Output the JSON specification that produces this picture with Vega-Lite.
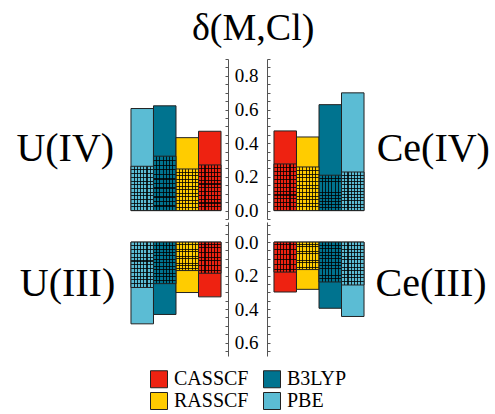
{
  "$schema": "https://vega.github.io/schema/vega-lite/v6.json",
  "padding": {"left": 16, "top": 10, "right": 0, "bottom": 0},
  "background": "white",
  "title": {"text": "δ(M,Cl)", "font": "Liberation Serif", "fontSize": 38, "fontWeight": "normal", "anchor": "middle", "color": "black", "offset": 2},
  "data": {"values": [
    {"panel": "U(IV)", "method": "PBE", "total": 0.606, "hatched": 0.263},
    {"panel": "U(IV)", "method": "B3LYP", "total": 0.622, "hatched": 0.323},
    {"panel": "U(IV)", "method": "RASSCF", "total": 0.433, "hatched": 0.247},
    {"panel": "U(IV)", "method": "CASSCF", "total": 0.471, "hatched": 0.271},
    {"panel": "Ce(IV)", "method": "CASSCF", "total": 0.473, "hatched": 0.277},
    {"panel": "Ce(IV)", "method": "RASSCF", "total": 0.437, "hatched": 0.259},
    {"panel": "Ce(IV)", "method": "B3LYP", "total": 0.629, "hatched": 0.21},
    {"panel": "Ce(IV)", "method": "PBE", "total": 0.699, "hatched": 0.229},
    {"panel": "U(III)", "method": "PBE", "total": 0.488, "hatched": 0.271},
    {"panel": "U(III)", "method": "B3LYP", "total": 0.432, "hatched": 0.248},
    {"panel": "U(III)", "method": "RASSCF", "total": 0.301, "hatched": 0.17},
    {"panel": "U(III)", "method": "CASSCF", "total": 0.327, "hatched": 0.186},
    {"panel": "Ce(III)", "method": "CASSCF", "total": 0.298, "hatched": 0.179},
    {"panel": "Ce(III)", "method": "RASSCF", "total": 0.282, "hatched": 0.164},
    {"panel": "Ce(III)", "method": "B3LYP", "total": 0.395, "hatched": 0.238},
    {"panel": "Ce(III)", "method": "PBE", "total": 0.444, "hatched": 0.256}
  ]},
  "columns": 2,
  "spacing": {"row": 3, "column": 39},
  "bounds": "flush",
  "concat": [
    {
      "width": 104, "height": 160,
      "title": {"text": "U(IV)", "orient": "left", "angle": 0, "align": "center", "baseline": "middle", "offset": -39, "dy": 10},
      "transform": [{"filter": "datum.panel == 'U(IV)'"}],
      "encoding": {"x": {"field": "method", "type": "nominal", "sort": ["PBE", "B3LYP", "RASSCF", "CASSCF"], "axis": null, "scale": {"paddingInner": 0, "paddingOuter": 0.31}}},
      "layer": [
        {"mark": {"type": "rule", "color": "#444", "strokeWidth": 1}, "encoding": {"y": {"datum": 0, "type": "quantitative", "title": null, "axis": {"orient": "right", "labels": false, "values": [-0.05,0,0.05,0.1,0.15,0.2,0.25,0.3,0.35,0.4,0.45,0.5,0.55,0.6,0.65,0.7,0.75,0.8,0.85,0.9]}}}},
        {"mark": {"type": "bar", "stroke": "#222", "strokeWidth": 1}, "encoding": {
          "y": {"field": "total", "type": "quantitative", "title": null, "scale": {"domain": [-0.05, 0.9], "nice": false}, "axis": {"orient": "right", "labels": false, "values": [-0.05,0,0.05,0.1,0.15,0.2,0.25,0.3,0.35,0.4,0.45,0.5,0.55,0.6,0.65,0.7,0.75,0.8,0.85,0.9]}},
          "color": {"field": "method", "type": "nominal", "scale": {"domain": ["CASSCF", "RASSCF", "B3LYP", "PBE"], "range": ["#EE2211", "#FFCC00", "#00738F", "#5BBCD4"]}}}},
        {"mark": {"type": "bar"}, "encoding": {"y": {"field": "hatched", "type": "quantitative", "title": null, "axis": {"orient": "right", "labels": false, "values": [-0.05,0,0.05,0.1,0.15,0.2,0.25,0.3,0.35,0.4,0.45,0.5,0.55,0.6,0.65,0.7,0.75,0.8,0.85,0.9]}}, "color": {"field": "method", "type": "nominal"}}},
        {"mark": {"type": "bar", "fill": {"gradient": "linear", "x1": 0, "y1": 0, "x2": 1, "y2": 0, "stops": [
    {"offset": 0, "color": "rgba(0,0,0,0)"},
    {"offset": 0.118, "color": "rgba(0,0,0,0)"}, {"offset": 0.118, "color": "rgba(0,0,0,0.8)"}, {"offset": 0.168, "color": "rgba(0,0,0,0.8)"}, {"offset": 0.168, "color": "rgba(0,0,0,0)"},
    {"offset": 0.261, "color": "rgba(0,0,0,0)"}, {"offset": 0.261, "color": "rgba(0,0,0,0.8)"}, {"offset": 0.311, "color": "rgba(0,0,0,0.8)"}, {"offset": 0.311, "color": "rgba(0,0,0,0)"},
    {"offset": 0.404, "color": "rgba(0,0,0,0)"}, {"offset": 0.404, "color": "rgba(0,0,0,0.8)"}, {"offset": 0.454, "color": "rgba(0,0,0,0.8)"}, {"offset": 0.454, "color": "rgba(0,0,0,0)"},
    {"offset": 0.546, "color": "rgba(0,0,0,0)"}, {"offset": 0.546, "color": "rgba(0,0,0,0.8)"}, {"offset": 0.596, "color": "rgba(0,0,0,0.8)"}, {"offset": 0.596, "color": "rgba(0,0,0,0)"},
    {"offset": 0.689, "color": "rgba(0,0,0,0)"}, {"offset": 0.689, "color": "rgba(0,0,0,0.8)"}, {"offset": 0.739, "color": "rgba(0,0,0,0.8)"}, {"offset": 0.739, "color": "rgba(0,0,0,0)"},
    {"offset": 0.832, "color": "rgba(0,0,0,0)"}, {"offset": 0.832, "color": "rgba(0,0,0,0.8)"}, {"offset": 0.882, "color": "rgba(0,0,0,0.8)"}, {"offset": 0.882, "color": "rgba(0,0,0,0)"},
    {"offset": 1, "color": "rgba(0,0,0,0)"}]}}, "encoding": {"y": {"field": "hatched", "type": "quantitative", "title": null, "axis": {"orient": "right", "labels": false, "values": [-0.05,0,0.05,0.1,0.15,0.2,0.25,0.3,0.35,0.4,0.45,0.5,0.55,0.6,0.65,0.7,0.75,0.8,0.85,0.9]}}}},
        {"mark": {"type": "bar", "stroke": "#222", "strokeWidth": 1, "fill": {"gradient": "linear", "x1": 0, "y1": 0, "x2": 0, "y2": 1, "stops": [
    {"offset": 0, "color": "rgba(0,0,0,0)"},
    {"offset": 0.071, "color": "rgba(0,0,0,0)"}, {"offset": 0.071, "color": "rgba(0,0,0,0.8)"}, {"offset": 0.095, "color": "rgba(0,0,0,0.8)"}, {"offset": 0.095, "color": "rgba(0,0,0,0)"},
    {"offset": 0.155, "color": "rgba(0,0,0,0)"}, {"offset": 0.155, "color": "rgba(0,0,0,0.8)"}, {"offset": 0.179, "color": "rgba(0,0,0,0.8)"}, {"offset": 0.179, "color": "rgba(0,0,0,0)"},
    {"offset": 0.238, "color": "rgba(0,0,0,0)"}, {"offset": 0.238, "color": "rgba(0,0,0,0.8)"}, {"offset": 0.262, "color": "rgba(0,0,0,0.8)"}, {"offset": 0.262, "color": "rgba(0,0,0,0)"},
    {"offset": 0.321, "color": "rgba(0,0,0,0)"}, {"offset": 0.321, "color": "rgba(0,0,0,0.8)"}, {"offset": 0.345, "color": "rgba(0,0,0,0.8)"}, {"offset": 0.345, "color": "rgba(0,0,0,0)"},
    {"offset": 0.405, "color": "rgba(0,0,0,0)"}, {"offset": 0.405, "color": "rgba(0,0,0,0.8)"}, {"offset": 0.429, "color": "rgba(0,0,0,0.8)"}, {"offset": 0.429, "color": "rgba(0,0,0,0)"},
    {"offset": 0.488, "color": "rgba(0,0,0,0)"}, {"offset": 0.488, "color": "rgba(0,0,0,0.8)"}, {"offset": 0.512, "color": "rgba(0,0,0,0.8)"}, {"offset": 0.512, "color": "rgba(0,0,0,0)"},
    {"offset": 0.571, "color": "rgba(0,0,0,0)"}, {"offset": 0.571, "color": "rgba(0,0,0,0.8)"}, {"offset": 0.595, "color": "rgba(0,0,0,0.8)"}, {"offset": 0.595, "color": "rgba(0,0,0,0)"},
    {"offset": 0.655, "color": "rgba(0,0,0,0)"}, {"offset": 0.655, "color": "rgba(0,0,0,0.8)"}, {"offset": 0.679, "color": "rgba(0,0,0,0.8)"}, {"offset": 0.679, "color": "rgba(0,0,0,0)"},
    {"offset": 0.738, "color": "rgba(0,0,0,0)"}, {"offset": 0.738, "color": "rgba(0,0,0,0.8)"}, {"offset": 0.762, "color": "rgba(0,0,0,0.8)"}, {"offset": 0.762, "color": "rgba(0,0,0,0)"},
    {"offset": 0.821, "color": "rgba(0,0,0,0)"}, {"offset": 0.821, "color": "rgba(0,0,0,0.8)"}, {"offset": 0.845, "color": "rgba(0,0,0,0.8)"}, {"offset": 0.845, "color": "rgba(0,0,0,0)"},
    {"offset": 0.905, "color": "rgba(0,0,0,0)"}, {"offset": 0.905, "color": "rgba(0,0,0,0.8)"}, {"offset": 0.929, "color": "rgba(0,0,0,0.8)"}, {"offset": 0.929, "color": "rgba(0,0,0,0)"},
    {"offset": 1, "color": "rgba(0,0,0,0)"}]}}, "encoding": {"y": {"field": "hatched", "type": "quantitative", "title": null, "axis": {"orient": "right", "labels": false, "values": [-0.05,0,0.05,0.1,0.15,0.2,0.25,0.3,0.35,0.4,0.45,0.5,0.55,0.6,0.65,0.7,0.75,0.8,0.85,0.9]}}}}
      ]
    },
    {
      "width": 104, "height": 160,
      "title": {"text": "Ce(IV)", "orient": "right", "angle": 0, "align": "center", "baseline": "middle", "offset": -51, "dy": 10},
      "transform": [{"filter": "datum.panel == 'Ce(IV)'"}],
      "encoding": {"x": {"field": "method", "type": "nominal", "sort": ["CASSCF", "RASSCF", "B3LYP", "PBE"], "axis": null, "scale": {"paddingInner": 0, "paddingOuter": 0.31}}},
      "layer": [
        {"mark": {"type": "rule", "color": "#444", "strokeWidth": 1}, "encoding": {"y": {"datum": 0, "type": "quantitative", "title": null, "axis": {"orient": "left", "labelExpr": "datum.value >= 0 && abs(datum.value*5 - round(datum.value*5)) < 0.001 ? format(datum.value, '.1f') : ''", "values": [-0.05,0,0.05,0.1,0.15,0.2,0.25,0.3,0.35,0.4,0.45,0.5,0.55,0.6,0.65,0.7,0.75,0.8,0.85,0.9]}}}},
        {"mark": {"type": "bar", "stroke": "#222", "strokeWidth": 1}, "encoding": {
          "y": {"field": "total", "type": "quantitative", "title": null, "scale": {"domain": [-0.05, 0.9], "nice": false}, "axis": {"orient": "left", "labelExpr": "datum.value >= 0 && abs(datum.value*5 - round(datum.value*5)) < 0.001 ? format(datum.value, '.1f') : ''", "values": [-0.05,0,0.05,0.1,0.15,0.2,0.25,0.3,0.35,0.4,0.45,0.5,0.55,0.6,0.65,0.7,0.75,0.8,0.85,0.9]}},
          "color": {"field": "method", "type": "nominal"}}},
        {"mark": {"type": "bar"}, "encoding": {"y": {"field": "hatched", "type": "quantitative", "title": null, "axis": {"orient": "left", "labelExpr": "datum.value >= 0 && abs(datum.value*5 - round(datum.value*5)) < 0.001 ? format(datum.value, '.1f') : ''", "values": [-0.05,0,0.05,0.1,0.15,0.2,0.25,0.3,0.35,0.4,0.45,0.5,0.55,0.6,0.65,0.7,0.75,0.8,0.85,0.9]}}, "color": {"field": "method", "type": "nominal"}}},
        {"mark": {"type": "bar", "fill": {"gradient": "linear", "x1": 0, "y1": 0, "x2": 1, "y2": 0, "stops": [
    {"offset": 0, "color": "rgba(0,0,0,0)"},
    {"offset": 0.118, "color": "rgba(0,0,0,0)"}, {"offset": 0.118, "color": "rgba(0,0,0,0.8)"}, {"offset": 0.168, "color": "rgba(0,0,0,0.8)"}, {"offset": 0.168, "color": "rgba(0,0,0,0)"},
    {"offset": 0.261, "color": "rgba(0,0,0,0)"}, {"offset": 0.261, "color": "rgba(0,0,0,0.8)"}, {"offset": 0.311, "color": "rgba(0,0,0,0.8)"}, {"offset": 0.311, "color": "rgba(0,0,0,0)"},
    {"offset": 0.404, "color": "rgba(0,0,0,0)"}, {"offset": 0.404, "color": "rgba(0,0,0,0.8)"}, {"offset": 0.454, "color": "rgba(0,0,0,0.8)"}, {"offset": 0.454, "color": "rgba(0,0,0,0)"},
    {"offset": 0.546, "color": "rgba(0,0,0,0)"}, {"offset": 0.546, "color": "rgba(0,0,0,0.8)"}, {"offset": 0.596, "color": "rgba(0,0,0,0.8)"}, {"offset": 0.596, "color": "rgba(0,0,0,0)"},
    {"offset": 0.689, "color": "rgba(0,0,0,0)"}, {"offset": 0.689, "color": "rgba(0,0,0,0.8)"}, {"offset": 0.739, "color": "rgba(0,0,0,0.8)"}, {"offset": 0.739, "color": "rgba(0,0,0,0)"},
    {"offset": 0.832, "color": "rgba(0,0,0,0)"}, {"offset": 0.832, "color": "rgba(0,0,0,0.8)"}, {"offset": 0.882, "color": "rgba(0,0,0,0.8)"}, {"offset": 0.882, "color": "rgba(0,0,0,0)"},
    {"offset": 1, "color": "rgba(0,0,0,0)"}]}}, "encoding": {"y": {"field": "hatched", "type": "quantitative", "title": null, "axis": {"orient": "left", "labelExpr": "datum.value >= 0 && abs(datum.value*5 - round(datum.value*5)) < 0.001 ? format(datum.value, '.1f') : ''", "values": [-0.05,0,0.05,0.1,0.15,0.2,0.25,0.3,0.35,0.4,0.45,0.5,0.55,0.6,0.65,0.7,0.75,0.8,0.85,0.9]}}}},
        {"mark": {"type": "bar", "stroke": "#222", "strokeWidth": 1, "fill": {"gradient": "linear", "x1": 0, "y1": 0, "x2": 0, "y2": 1, "stops": [
    {"offset": 0, "color": "rgba(0,0,0,0)"},
    {"offset": 0.071, "color": "rgba(0,0,0,0)"}, {"offset": 0.071, "color": "rgba(0,0,0,0.8)"}, {"offset": 0.095, "color": "rgba(0,0,0,0.8)"}, {"offset": 0.095, "color": "rgba(0,0,0,0)"},
    {"offset": 0.155, "color": "rgba(0,0,0,0)"}, {"offset": 0.155, "color": "rgba(0,0,0,0.8)"}, {"offset": 0.179, "color": "rgba(0,0,0,0.8)"}, {"offset": 0.179, "color": "rgba(0,0,0,0)"},
    {"offset": 0.238, "color": "rgba(0,0,0,0)"}, {"offset": 0.238, "color": "rgba(0,0,0,0.8)"}, {"offset": 0.262, "color": "rgba(0,0,0,0.8)"}, {"offset": 0.262, "color": "rgba(0,0,0,0)"},
    {"offset": 0.321, "color": "rgba(0,0,0,0)"}, {"offset": 0.321, "color": "rgba(0,0,0,0.8)"}, {"offset": 0.345, "color": "rgba(0,0,0,0.8)"}, {"offset": 0.345, "color": "rgba(0,0,0,0)"},
    {"offset": 0.405, "color": "rgba(0,0,0,0)"}, {"offset": 0.405, "color": "rgba(0,0,0,0.8)"}, {"offset": 0.429, "color": "rgba(0,0,0,0.8)"}, {"offset": 0.429, "color": "rgba(0,0,0,0)"},
    {"offset": 0.488, "color": "rgba(0,0,0,0)"}, {"offset": 0.488, "color": "rgba(0,0,0,0.8)"}, {"offset": 0.512, "color": "rgba(0,0,0,0.8)"}, {"offset": 0.512, "color": "rgba(0,0,0,0)"},
    {"offset": 0.571, "color": "rgba(0,0,0,0)"}, {"offset": 0.571, "color": "rgba(0,0,0,0.8)"}, {"offset": 0.595, "color": "rgba(0,0,0,0.8)"}, {"offset": 0.595, "color": "rgba(0,0,0,0)"},
    {"offset": 0.655, "color": "rgba(0,0,0,0)"}, {"offset": 0.655, "color": "rgba(0,0,0,0.8)"}, {"offset": 0.679, "color": "rgba(0,0,0,0.8)"}, {"offset": 0.679, "color": "rgba(0,0,0,0)"},
    {"offset": 0.738, "color": "rgba(0,0,0,0)"}, {"offset": 0.738, "color": "rgba(0,0,0,0.8)"}, {"offset": 0.762, "color": "rgba(0,0,0,0.8)"}, {"offset": 0.762, "color": "rgba(0,0,0,0)"},
    {"offset": 0.821, "color": "rgba(0,0,0,0)"}, {"offset": 0.821, "color": "rgba(0,0,0,0.8)"}, {"offset": 0.845, "color": "rgba(0,0,0,0.8)"}, {"offset": 0.845, "color": "rgba(0,0,0,0)"},
    {"offset": 0.905, "color": "rgba(0,0,0,0)"}, {"offset": 0.905, "color": "rgba(0,0,0,0.8)"}, {"offset": 0.929, "color": "rgba(0,0,0,0.8)"}, {"offset": 0.929, "color": "rgba(0,0,0,0)"},
    {"offset": 1, "color": "rgba(0,0,0,0)"}]}}, "encoding": {"y": {"field": "hatched", "type": "quantitative", "title": null, "axis": {"orient": "left", "labelExpr": "datum.value >= 0 && abs(datum.value*5 - round(datum.value*5)) < 0.001 ? format(datum.value, '.1f') : ''", "values": [-0.05,0,0.05,0.1,0.15,0.2,0.25,0.3,0.35,0.4,0.45,0.5,0.55,0.6,0.65,0.7,0.75,0.8,0.85,0.9]}}}}
      ]
    },
    {
      "width": 104, "height": 134,
      "title": {"text": "U(III)", "orient": "left", "angle": 0, "align": "center", "baseline": "middle", "offset": -39, "dy": -5},
      "transform": [{"filter": "datum.panel == 'U(III)'"}],
      "encoding": {"x": {"field": "method", "type": "nominal", "sort": ["PBE", "B3LYP", "RASSCF", "CASSCF"], "axis": null, "scale": {"paddingInner": 0, "paddingOuter": 0.31}}},
      "layer": [
        {"mark": {"type": "rule", "color": "#444", "strokeWidth": 1}, "encoding": {"y": {"datum": 0, "type": "quantitative", "title": null, "axis": {"orient": "right", "labels": false, "values": [-0.1,-0.05,0,0.05,0.1,0.15,0.2,0.25,0.3,0.35,0.4,0.45,0.5,0.55,0.6,0.65]}}}},
        {"mark": {"type": "bar", "stroke": "#222", "strokeWidth": 1}, "encoding": {
          "y": {"field": "total", "type": "quantitative", "title": null, "scale": {"domain": [-0.12, 0.68], "nice": false, "reverse": true}, "axis": {"orient": "right", "labels": false, "values": [-0.1,-0.05,0,0.05,0.1,0.15,0.2,0.25,0.3,0.35,0.4,0.45,0.5,0.55,0.6,0.65]}},
          "color": {"field": "method", "type": "nominal"}}},
        {"mark": {"type": "bar"}, "encoding": {"y": {"field": "hatched", "type": "quantitative", "title": null, "axis": {"orient": "right", "labels": false, "values": [-0.1,-0.05,0,0.05,0.1,0.15,0.2,0.25,0.3,0.35,0.4,0.45,0.5,0.55,0.6,0.65]}}, "color": {"field": "method", "type": "nominal"}}},
        {"mark": {"type": "bar", "fill": {"gradient": "linear", "x1": 0, "y1": 0, "x2": 1, "y2": 0, "stops": [
    {"offset": 0, "color": "rgba(0,0,0,0)"},
    {"offset": 0.118, "color": "rgba(0,0,0,0)"}, {"offset": 0.118, "color": "rgba(0,0,0,0.8)"}, {"offset": 0.168, "color": "rgba(0,0,0,0.8)"}, {"offset": 0.168, "color": "rgba(0,0,0,0)"},
    {"offset": 0.261, "color": "rgba(0,0,0,0)"}, {"offset": 0.261, "color": "rgba(0,0,0,0.8)"}, {"offset": 0.311, "color": "rgba(0,0,0,0.8)"}, {"offset": 0.311, "color": "rgba(0,0,0,0)"},
    {"offset": 0.404, "color": "rgba(0,0,0,0)"}, {"offset": 0.404, "color": "rgba(0,0,0,0.8)"}, {"offset": 0.454, "color": "rgba(0,0,0,0.8)"}, {"offset": 0.454, "color": "rgba(0,0,0,0)"},
    {"offset": 0.546, "color": "rgba(0,0,0,0)"}, {"offset": 0.546, "color": "rgba(0,0,0,0.8)"}, {"offset": 0.596, "color": "rgba(0,0,0,0.8)"}, {"offset": 0.596, "color": "rgba(0,0,0,0)"},
    {"offset": 0.689, "color": "rgba(0,0,0,0)"}, {"offset": 0.689, "color": "rgba(0,0,0,0.8)"}, {"offset": 0.739, "color": "rgba(0,0,0,0.8)"}, {"offset": 0.739, "color": "rgba(0,0,0,0)"},
    {"offset": 0.832, "color": "rgba(0,0,0,0)"}, {"offset": 0.832, "color": "rgba(0,0,0,0.8)"}, {"offset": 0.882, "color": "rgba(0,0,0,0.8)"}, {"offset": 0.882, "color": "rgba(0,0,0,0)"},
    {"offset": 1, "color": "rgba(0,0,0,0)"}]}}, "encoding": {"y": {"field": "hatched", "type": "quantitative", "title": null, "axis": {"orient": "right", "labels": false, "values": [-0.1,-0.05,0,0.05,0.1,0.15,0.2,0.25,0.3,0.35,0.4,0.45,0.5,0.55,0.6,0.65]}}}},
        {"mark": {"type": "bar", "stroke": "#222", "strokeWidth": 1, "fill": {"gradient": "linear", "x1": 0, "y1": 0, "x2": 0, "y2": 1, "stops": [
    {"offset": 0, "color": "rgba(0,0,0,0)"},
    {"offset": 0.071, "color": "rgba(0,0,0,0)"}, {"offset": 0.071, "color": "rgba(0,0,0,0.8)"}, {"offset": 0.095, "color": "rgba(0,0,0,0.8)"}, {"offset": 0.095, "color": "rgba(0,0,0,0)"},
    {"offset": 0.155, "color": "rgba(0,0,0,0)"}, {"offset": 0.155, "color": "rgba(0,0,0,0.8)"}, {"offset": 0.179, "color": "rgba(0,0,0,0.8)"}, {"offset": 0.179, "color": "rgba(0,0,0,0)"},
    {"offset": 0.238, "color": "rgba(0,0,0,0)"}, {"offset": 0.238, "color": "rgba(0,0,0,0.8)"}, {"offset": 0.262, "color": "rgba(0,0,0,0.8)"}, {"offset": 0.262, "color": "rgba(0,0,0,0)"},
    {"offset": 0.321, "color": "rgba(0,0,0,0)"}, {"offset": 0.321, "color": "rgba(0,0,0,0.8)"}, {"offset": 0.345, "color": "rgba(0,0,0,0.8)"}, {"offset": 0.345, "color": "rgba(0,0,0,0)"},
    {"offset": 0.405, "color": "rgba(0,0,0,0)"}, {"offset": 0.405, "color": "rgba(0,0,0,0.8)"}, {"offset": 0.429, "color": "rgba(0,0,0,0.8)"}, {"offset": 0.429, "color": "rgba(0,0,0,0)"},
    {"offset": 0.488, "color": "rgba(0,0,0,0)"}, {"offset": 0.488, "color": "rgba(0,0,0,0.8)"}, {"offset": 0.512, "color": "rgba(0,0,0,0.8)"}, {"offset": 0.512, "color": "rgba(0,0,0,0)"},
    {"offset": 0.571, "color": "rgba(0,0,0,0)"}, {"offset": 0.571, "color": "rgba(0,0,0,0.8)"}, {"offset": 0.595, "color": "rgba(0,0,0,0.8)"}, {"offset": 0.595, "color": "rgba(0,0,0,0)"},
    {"offset": 0.655, "color": "rgba(0,0,0,0)"}, {"offset": 0.655, "color": "rgba(0,0,0,0.8)"}, {"offset": 0.679, "color": "rgba(0,0,0,0.8)"}, {"offset": 0.679, "color": "rgba(0,0,0,0)"},
    {"offset": 0.738, "color": "rgba(0,0,0,0)"}, {"offset": 0.738, "color": "rgba(0,0,0,0.8)"}, {"offset": 0.762, "color": "rgba(0,0,0,0.8)"}, {"offset": 0.762, "color": "rgba(0,0,0,0)"},
    {"offset": 0.821, "color": "rgba(0,0,0,0)"}, {"offset": 0.821, "color": "rgba(0,0,0,0.8)"}, {"offset": 0.845, "color": "rgba(0,0,0,0.8)"}, {"offset": 0.845, "color": "rgba(0,0,0,0)"},
    {"offset": 0.905, "color": "rgba(0,0,0,0)"}, {"offset": 0.905, "color": "rgba(0,0,0,0.8)"}, {"offset": 0.929, "color": "rgba(0,0,0,0.8)"}, {"offset": 0.929, "color": "rgba(0,0,0,0)"},
    {"offset": 1, "color": "rgba(0,0,0,0)"}]}}, "encoding": {"y": {"field": "hatched", "type": "quantitative", "title": null, "axis": {"orient": "right", "labels": false, "values": [-0.1,-0.05,0,0.05,0.1,0.15,0.2,0.25,0.3,0.35,0.4,0.45,0.5,0.55,0.6,0.65]}}}}
      ]
    },
    {
      "width": 104, "height": 134,
      "title": {"text": "Ce(III)", "orient": "right", "angle": 0, "align": "center", "baseline": "middle", "offset": -51, "dy": -5},
      "transform": [{"filter": "datum.panel == 'Ce(III)'"}],
      "encoding": {"x": {"field": "method", "type": "nominal", "sort": ["CASSCF", "RASSCF", "B3LYP", "PBE"], "axis": null, "scale": {"paddingInner": 0, "paddingOuter": 0.31}}},
      "layer": [
        {"mark": {"type": "rule", "color": "#444", "strokeWidth": 1}, "encoding": {"y": {"datum": 0, "type": "quantitative", "title": null, "axis": {"orient": "left", "labelExpr": "datum.value >= 0 && abs(datum.value*5 - round(datum.value*5)) < 0.001 ? format(datum.value, '.1f') : ''", "values": [-0.1,-0.05,0,0.05,0.1,0.15,0.2,0.25,0.3,0.35,0.4,0.45,0.5,0.55,0.6,0.65]}}}},
        {"mark": {"type": "bar", "stroke": "#222", "strokeWidth": 1}, "encoding": {
          "y": {"field": "total", "type": "quantitative", "title": null, "scale": {"domain": [-0.12, 0.68], "nice": false, "reverse": true}, "axis": {"orient": "left", "labelExpr": "datum.value >= 0 && abs(datum.value*5 - round(datum.value*5)) < 0.001 ? format(datum.value, '.1f') : ''", "values": [-0.1,-0.05,0,0.05,0.1,0.15,0.2,0.25,0.3,0.35,0.4,0.45,0.5,0.55,0.6,0.65]}},
          "color": {"field": "method", "type": "nominal"}}},
        {"mark": {"type": "bar"}, "encoding": {"y": {"field": "hatched", "type": "quantitative", "title": null, "axis": {"orient": "left", "labelExpr": "datum.value >= 0 && abs(datum.value*5 - round(datum.value*5)) < 0.001 ? format(datum.value, '.1f') : ''", "values": [-0.1,-0.05,0,0.05,0.1,0.15,0.2,0.25,0.3,0.35,0.4,0.45,0.5,0.55,0.6,0.65]}}, "color": {"field": "method", "type": "nominal"}}},
        {"mark": {"type": "bar", "fill": {"gradient": "linear", "x1": 0, "y1": 0, "x2": 1, "y2": 0, "stops": [
    {"offset": 0, "color": "rgba(0,0,0,0)"},
    {"offset": 0.118, "color": "rgba(0,0,0,0)"}, {"offset": 0.118, "color": "rgba(0,0,0,0.8)"}, {"offset": 0.168, "color": "rgba(0,0,0,0.8)"}, {"offset": 0.168, "color": "rgba(0,0,0,0)"},
    {"offset": 0.261, "color": "rgba(0,0,0,0)"}, {"offset": 0.261, "color": "rgba(0,0,0,0.8)"}, {"offset": 0.311, "color": "rgba(0,0,0,0.8)"}, {"offset": 0.311, "color": "rgba(0,0,0,0)"},
    {"offset": 0.404, "color": "rgba(0,0,0,0)"}, {"offset": 0.404, "color": "rgba(0,0,0,0.8)"}, {"offset": 0.454, "color": "rgba(0,0,0,0.8)"}, {"offset": 0.454, "color": "rgba(0,0,0,0)"},
    {"offset": 0.546, "color": "rgba(0,0,0,0)"}, {"offset": 0.546, "color": "rgba(0,0,0,0.8)"}, {"offset": 0.596, "color": "rgba(0,0,0,0.8)"}, {"offset": 0.596, "color": "rgba(0,0,0,0)"},
    {"offset": 0.689, "color": "rgba(0,0,0,0)"}, {"offset": 0.689, "color": "rgba(0,0,0,0.8)"}, {"offset": 0.739, "color": "rgba(0,0,0,0.8)"}, {"offset": 0.739, "color": "rgba(0,0,0,0)"},
    {"offset": 0.832, "color": "rgba(0,0,0,0)"}, {"offset": 0.832, "color": "rgba(0,0,0,0.8)"}, {"offset": 0.882, "color": "rgba(0,0,0,0.8)"}, {"offset": 0.882, "color": "rgba(0,0,0,0)"},
    {"offset": 1, "color": "rgba(0,0,0,0)"}]}}, "encoding": {"y": {"field": "hatched", "type": "quantitative", "title": null, "axis": {"orient": "left", "labelExpr": "datum.value >= 0 && abs(datum.value*5 - round(datum.value*5)) < 0.001 ? format(datum.value, '.1f') : ''", "values": [-0.1,-0.05,0,0.05,0.1,0.15,0.2,0.25,0.3,0.35,0.4,0.45,0.5,0.55,0.6,0.65]}}}},
        {"mark": {"type": "bar", "stroke": "#222", "strokeWidth": 1, "fill": {"gradient": "linear", "x1": 0, "y1": 0, "x2": 0, "y2": 1, "stops": [
    {"offset": 0, "color": "rgba(0,0,0,0)"},
    {"offset": 0.071, "color": "rgba(0,0,0,0)"}, {"offset": 0.071, "color": "rgba(0,0,0,0.8)"}, {"offset": 0.095, "color": "rgba(0,0,0,0.8)"}, {"offset": 0.095, "color": "rgba(0,0,0,0)"},
    {"offset": 0.155, "color": "rgba(0,0,0,0)"}, {"offset": 0.155, "color": "rgba(0,0,0,0.8)"}, {"offset": 0.179, "color": "rgba(0,0,0,0.8)"}, {"offset": 0.179, "color": "rgba(0,0,0,0)"},
    {"offset": 0.238, "color": "rgba(0,0,0,0)"}, {"offset": 0.238, "color": "rgba(0,0,0,0.8)"}, {"offset": 0.262, "color": "rgba(0,0,0,0.8)"}, {"offset": 0.262, "color": "rgba(0,0,0,0)"},
    {"offset": 0.321, "color": "rgba(0,0,0,0)"}, {"offset": 0.321, "color": "rgba(0,0,0,0.8)"}, {"offset": 0.345, "color": "rgba(0,0,0,0.8)"}, {"offset": 0.345, "color": "rgba(0,0,0,0)"},
    {"offset": 0.405, "color": "rgba(0,0,0,0)"}, {"offset": 0.405, "color": "rgba(0,0,0,0.8)"}, {"offset": 0.429, "color": "rgba(0,0,0,0.8)"}, {"offset": 0.429, "color": "rgba(0,0,0,0)"},
    {"offset": 0.488, "color": "rgba(0,0,0,0)"}, {"offset": 0.488, "color": "rgba(0,0,0,0.8)"}, {"offset": 0.512, "color": "rgba(0,0,0,0.8)"}, {"offset": 0.512, "color": "rgba(0,0,0,0)"},
    {"offset": 0.571, "color": "rgba(0,0,0,0)"}, {"offset": 0.571, "color": "rgba(0,0,0,0.8)"}, {"offset": 0.595, "color": "rgba(0,0,0,0.8)"}, {"offset": 0.595, "color": "rgba(0,0,0,0)"},
    {"offset": 0.655, "color": "rgba(0,0,0,0)"}, {"offset": 0.655, "color": "rgba(0,0,0,0.8)"}, {"offset": 0.679, "color": "rgba(0,0,0,0.8)"}, {"offset": 0.679, "color": "rgba(0,0,0,0)"},
    {"offset": 0.738, "color": "rgba(0,0,0,0)"}, {"offset": 0.738, "color": "rgba(0,0,0,0.8)"}, {"offset": 0.762, "color": "rgba(0,0,0,0.8)"}, {"offset": 0.762, "color": "rgba(0,0,0,0)"},
    {"offset": 0.821, "color": "rgba(0,0,0,0)"}, {"offset": 0.821, "color": "rgba(0,0,0,0.8)"}, {"offset": 0.845, "color": "rgba(0,0,0,0.8)"}, {"offset": 0.845, "color": "rgba(0,0,0,0)"},
    {"offset": 0.905, "color": "rgba(0,0,0,0)"}, {"offset": 0.905, "color": "rgba(0,0,0,0.8)"}, {"offset": 0.929, "color": "rgba(0,0,0,0.8)"}, {"offset": 0.929, "color": "rgba(0,0,0,0)"},
    {"offset": 1, "color": "rgba(0,0,0,0)"}]}}, "encoding": {"y": {"field": "hatched", "type": "quantitative", "title": null, "axis": {"orient": "left", "labelExpr": "datum.value >= 0 && abs(datum.value*5 - round(datum.value*5)) < 0.001 ? format(datum.value, '.1f') : ''", "values": [-0.1,-0.05,0,0.05,0.1,0.15,0.2,0.25,0.3,0.35,0.4,0.45,0.5,0.55,0.6,0.65]}}}}
      ]
    }
  ],
  "config": {
    "font": "Liberation Serif",
    "view": {"stroke": null},
    "title": {"font": "Liberation Serif", "fontSize": 40, "fontWeight": "normal", "color": "black"},
    "axis": {"labelFont": "Liberation Serif", "labelFontSize": 19, "labelColor": "black", "labelBaseline": "middle", "labelOverlap": false, "tickSize": -3, "labelPadding": 12, "grid": false, "domainColor": "#555", "tickColor": "#555"},
    "legend": {"orient": "none", "legendX": 25, "legendY": 310, "columns": 2, "title": null, "symbolType": "square", "symbolSize": 289, "symbolStrokeColor": "#222", "symbolStrokeWidth": 1, "symbolOpacity": 1, "labelFont": "Liberation Serif", "labelFontSize": 20, "labelColor": "black", "columnPadding": 12, "rowPadding": 0, "labelOffset": 5}
  }
}
